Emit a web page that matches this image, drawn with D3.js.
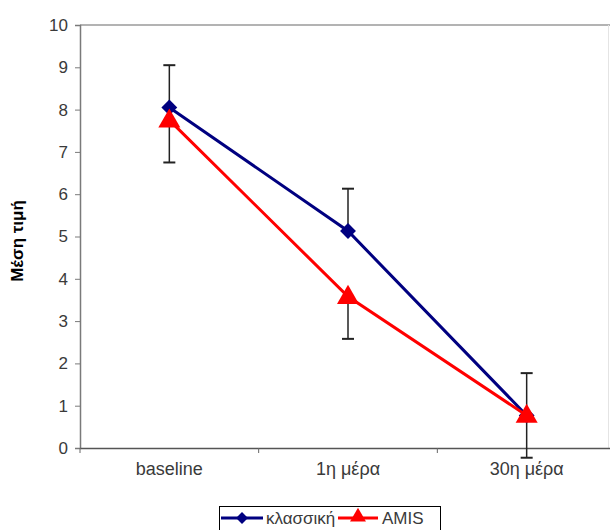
<!DOCTYPE html>
<html>
<head>
<meta charset="utf-8">
<script src="https://cdn.jsdelivr.net/npm/d3@7"></script>
<style>
  html, body { margin: 0; padding: 0; background: #fff; }
  svg { display: block; }
  text { font-family: "Liberation Sans", Arial, sans-serif; }
</style>
</head>
<body>
<svg id="chart" width="610" height="530"></svg>
<script>
const categories = ["baseline", "1η μέρα", "30η μέρα"];
const classicValues = [8.05, 5.13, 0.77];
const amisValues = [7.75, 3.58, 0.77];
const classicErrUp = [1.0, 1.0, 1.0];
const amisErrDown = [1.0, 1.0, 1.0];
const yTicks = [0, 1, 2, 3, 4, 5, 6, 7, 8, 9, 10];
const seriesNames = ["κλασσική", "AMIS"];
const yTitle = "Μέση τιμή";

const svg = d3.select("#chart");
const pLeft = 80, pRight = 616, pTop = 25, pBottom = 448;

const x = d3.scaleBand().domain(categories).range([pLeft, pRight]);
const y = d3.scaleLinear().domain([0, 10]).range([pBottom, pTop]);
const cx = c => x(c) + x.bandwidth() / 2;

// plot border (top and faint right)
svg.append("line").attr("x1", pLeft).attr("x2", 610).attr("y1", pTop).attr("y2", pTop)
  .attr("stroke", "#9a9a9a").attr("stroke-width", 1.5);
svg.append("line").attr("x1", 608.5).attr("x2", 608.5).attr("y1", pTop).attr("y2", pBottom)
  .attr("stroke", "#e4e4e4").attr("stroke-width", 1);

// Y axis
const yAxis = svg.append("g").attr("transform", `translate(${pLeft},0)`)
  .call(d3.axisLeft(y).tickValues(yTicks).tickSize(5).tickPadding(7).tickFormat(d3.format("d")));
yAxis.select(".domain").attr("stroke", "#7a7a7a").attr("stroke-width", 1.5);
yAxis.selectAll(".tick line").attr("stroke", "#7a7a7a").attr("stroke-width", 1);
yAxis.selectAll(".tick text").attr("fill", "#3a3a3a").style("font-size", "17px")
  .style("font-family", "'Liberation Sans', Arial, sans-serif");

// X axis
const xAxis = svg.append("g").attr("transform", `translate(0,${pBottom})`)
  .call(d3.axisBottom(x).tickSize(0).tickPadding(14));
xAxis.select(".domain").attr("stroke", "#555").attr("stroke-width", 1.5);
xAxis.selectAll(".tick text").attr("fill", "#3a3a3a").style("font-size", "18px")
  .style("font-family", "'Liberation Sans', Arial, sans-serif");
const bounds = categories.map(c => x(c)).concat([x(categories[categories.length - 1]) + x.bandwidth()]);
xAxis.selectAll(".bound").data(bounds).join("line")
  .attr("x1", d => d).attr("x2", d => d).attr("y1", 0).attr("y2", 5)
  .attr("stroke", "#666").attr("stroke-width", 1);

// Y title
svg.append("text")
  .attr("transform", `translate(23,241) rotate(-90)`)
  .attr("text-anchor", "middle")
  .style("font-size", "17px").style("font-weight", "bold").attr("fill", "#000")
  .text(yTitle);

// Error bars
const errs = [];
categories.forEach((c, i) => {
  errs.push({ c, v0: classicValues[i], v1: classicValues[i] + classicErrUp[i] });
  errs.push({ c, v0: amisValues[i], v1: amisValues[i] - amisErrDown[i] });
});
const eg = svg.append("g");
errs.forEach(e => {
  eg.append("line").attr("x1", cx(e.c)).attr("x2", cx(e.c)).attr("y1", y(e.v0)).attr("y2", y(e.v1))
    .attr("stroke", "#222").attr("stroke-width", 1.5);
  eg.append("line").attr("x1", cx(e.c) - 6).attr("x2", cx(e.c) + 6).attr("y1", y(e.v1)).attr("y2", y(e.v1))
    .attr("stroke", "#222").attr("stroke-width", 2);
});

// Lines
const line = d3.line().x(d => cx(d[0])).y(d => y(d[1]));
const classicPts = categories.map((c, i) => [c, classicValues[i]]);
const amisPts = categories.map((c, i) => [c, amisValues[i]]);
const navy = "#000080", red = "#ff0000";

svg.append("path").datum(classicPts).attr("d", line)
  .attr("fill", "none").attr("stroke", navy).attr("stroke-width", 3);
svg.append("g").selectAll("path").data(classicPts).join("path")
  .attr("d", d3.symbol().type(d3.symbolDiamond2).size(160))
  .attr("transform", d => `translate(${cx(d[0])},${y(d[1])})`)
  .attr("fill", navy);

svg.append("path").datum(amisPts).attr("d", line)
  .attr("fill", "none").attr("stroke", red).attr("stroke-width", 3);
svg.append("g").selectAll("path").data(amisPts).join("path")
  .attr("d", d3.symbol().type(d3.symbolTriangle).size(210))
  .attr("transform", d => `translate(${cx(d[0])},${y(d[1]) + 1})`)
  .attr("fill", red);

// Legend
const lg = svg.append("g");
lg.append("rect").attr("x", 219.5).attr("y", 506.5).attr("width", 221).attr("height", 40)
  .attr("fill", "#fff").attr("stroke", "#000").attr("stroke-width", 1);
const ly = 518;
lg.append("line").attr("x1", 221).attr("x2", 263).attr("y1", ly).attr("y2", ly)
  .attr("stroke", navy).attr("stroke-width", 3);
lg.append("path").attr("d", d3.symbol().type(d3.symbolDiamond2).size(90))
  .attr("transform", `translate(242,${ly})`).attr("fill", navy);
lg.append("text").attr("x", 266).attr("y", ly + 6).style("font-size", "17px").attr("fill", "#3a3a3a")
  .text(seriesNames[0]);
lg.append("line").attr("x1", 338).attr("x2", 378).attr("y1", ly).attr("y2", ly)
  .attr("stroke", red).attr("stroke-width", 3);
lg.append("path").attr("d", d3.symbol().type(d3.symbolTriangle).size(110))
  .attr("transform", `translate(358,${ly - 1})`).attr("fill", red);
lg.append("text").attr("x", 382).attr("y", ly + 6).style("font-size", "17px").attr("fill", "#3a3a3a")
  .text(seriesNames[1]);
</script>
</body>
</html>
